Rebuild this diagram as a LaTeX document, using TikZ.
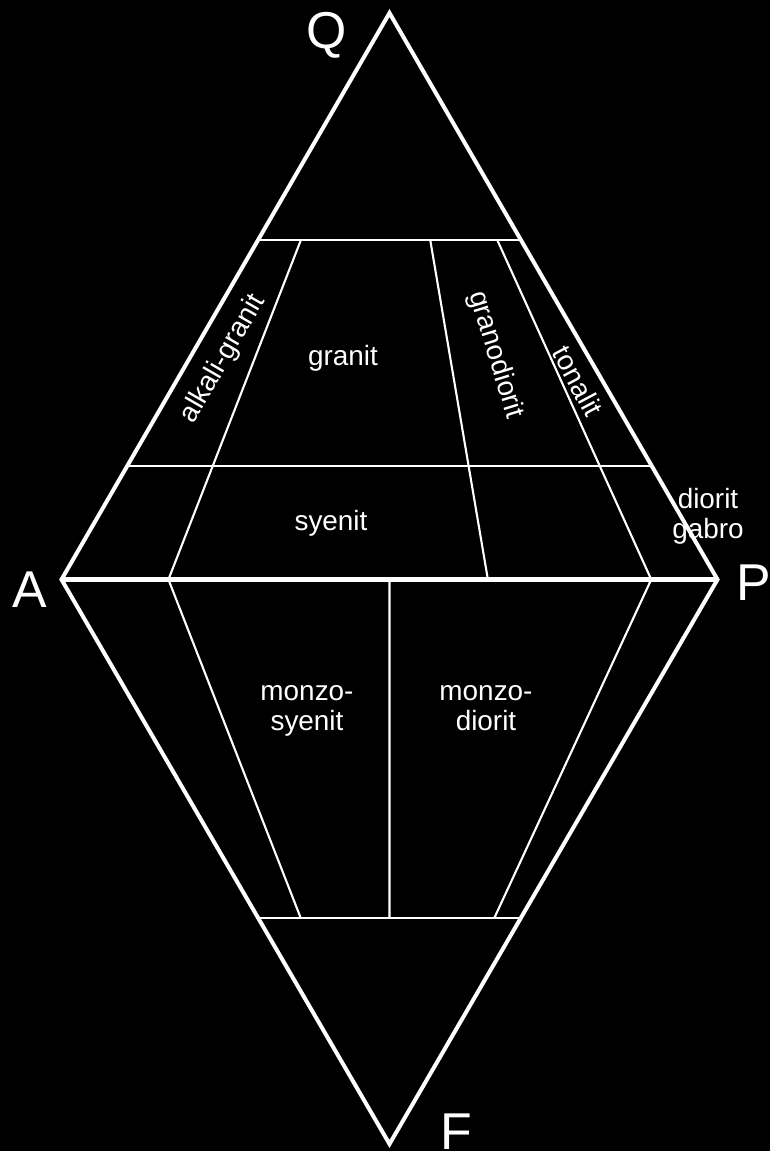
\documentclass[tikz,border=0pt]{standalone}
\usepackage{fontspec}
\setmainfont{Liberation Sans}
\usetikzlibrary{calc}
\begin{document}
\begin{tikzpicture}[x=1bp,y=-1bp,
  outer/.style={draw=white,line width=4bp,line join=miter},
  base/.style={draw=white,line width=4.6bp},
  inner/.style={draw=white,line width=2.1bp},
  lbl/.style={text=white,inner sep=0pt,font=\fontsize{28}{30}\selectfont},
  corner/.style={text=white,inner sep=0pt,font=\fontsize{52}{56}\selectfont}]
\fill[black] (0,0) rectangle (770,1151);
\useasboundingbox (0,0) rectangle (770,1151);
\coordinate (Q) at (389.5,13);
\coordinate (A) at (61.5,579.5);
\coordinate (P) at (717.5,579.5);
\coordinate (F) at (389.5,1144);
% horizontal levels
\coordinate (q60a) at ($(Q)!0.4!(A)$);
\coordinate (q60p) at ($(Q)!0.4!(P)$);
\coordinate (q20a) at ($(Q)!0.8!(A)$);
\coordinate (q20p) at ($(Q)!0.8!(P)$);
\coordinate (f60a) at ($(F)!0.4!(A)$);
\coordinate (f60p) at ($(F)!0.4!(P)$);
% division lines, upper
\coordinate (u1t) at ($(q60a)!0.163!(q60p)$);
\coordinate (u1b) at ($(A)!0.163!(P)$);
\coordinate (u2t) at ($(q60a)!0.655!(q60p)$);
\coordinate (u2b) at ($(A)!0.650!(P)$);
\coordinate (u3t) at ($(q60a)!0.91!(q60p)$);
\coordinate (u3b) at ($(A)!0.899!(P)$);
% division lines, lower
\coordinate (l1b) at ($(f60a)!0.162!(f60p)$);
\coordinate (l2t) at ($(A)!0.5!(P)$);
\coordinate (l2b) at ($(f60a)!0.5!(f60p)$);
\coordinate (l3b) at ($(f60a)!0.899!(f60p)$);

\draw[inner] (q60a) -- (q60p);
\draw[inner] (q20a) -- (q20p);
\draw[inner] (f60a) -- (f60p);
\draw[inner] (u1t) -- (u1b);
\draw[inner] (u2t) -- (u2b);
\draw[inner] (u3t) -- (u3b);
\draw[inner] (u1b) -- (l1b);
\draw[inner] (l2t) -- (l2b);
\draw[inner] (u3b) -- (l3b);
\draw[base] (A) -- (P);
\draw[outer] (Q) -- (A) -- (F) -- (P) -- cycle;

% corner labels
\node[corner,anchor=base] (lQ) at (327,48) {Q};
\node[corner,anchor=base] (lA) at (30,607) {A};
\node[corner,anchor=base] (lP) at (754,600) {P};
\node[corner,anchor=base] (lF) at (456,1149) {F};

% field labels
\node[lbl,anchor=base] (granit) at (343,365) {granit};
\node[lbl,anchor=base] (syenit) at (331,530) {syenit};
\node[lbl,anchor=base] (msy1) at (307,700) {monzo-};
\node[lbl,anchor=base] (msy2) at (307,730) {syenit};
\node[lbl,anchor=base] (mdi1) at (486,700) {monzo-};
\node[lbl,anchor=base] (mdi2) at (486,730) {diorit};
\node[lbl,anchor=base] (dg1) at (708,508) {diorit};
\node[lbl,anchor=base] (dg2) at (708,538) {gabro};
\node[lbl,rotate=60] (alk) at (223,359) {alkali-granit};
\node[lbl,rotate=-73] (grd) at (495.5,355) {granodiorit};
\node[lbl,rotate=-62] (ton) at (578,381) {tonalit};
\end{tikzpicture}
\end{document}
